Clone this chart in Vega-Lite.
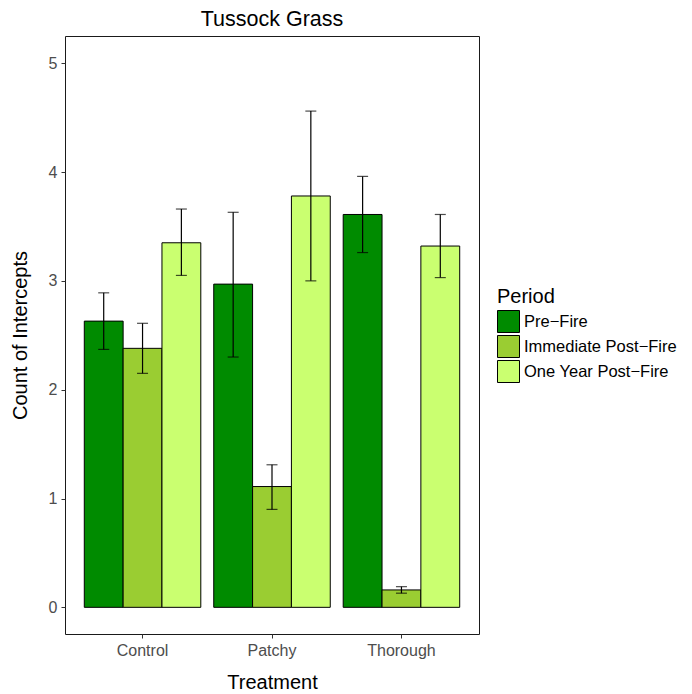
{
  "$schema": "https://vega.github.io/schema/vega-lite/v6.json",
  "width": 414,
  "height": 598,
  "autosize": {"type": "none"},
  "padding": {"left": 65, "top": 36, "right": 213, "bottom": 60},
  "background": "white",
  "config": {
    "font": "Liberation Sans",
    "view": {"stroke": "#1a1a1a", "strokeWidth": 1},
    "axis": {"grid": false, "domain": false, "tickColor": "#333333", "tickSize": 4, "labelColor": "#4D4D4D", "labelFontSize": 16, "titleFontSize": 20, "titleFontWeight": "normal", "titleColor": "black"}
  },
  "title": {"text": "Tussock Grass", "fontSize": 21.5, "fontWeight": "normal", "anchor": "middle", "offset": 6, "color": "black"},
  "data": {
    "values": [
      {"Treatment": "Control", "Period": "Pre−Fire", "value": 2.63, "lo": 2.37, "hi": 2.89},
      {"Treatment": "Control", "Period": "Immediate Post−Fire", "value": 2.38, "lo": 2.15, "hi": 2.61},
      {"Treatment": "Control", "Period": "One Year Post−Fire", "value": 3.35, "lo": 3.05, "hi": 3.66},
      {"Treatment": "Patchy", "Period": "Pre−Fire", "value": 2.97, "lo": 2.30, "hi": 3.63},
      {"Treatment": "Patchy", "Period": "Immediate Post−Fire", "value": 1.11, "lo": 0.90, "hi": 1.31},
      {"Treatment": "Patchy", "Period": "One Year Post−Fire", "value": 3.78, "lo": 3.00, "hi": 4.56},
      {"Treatment": "Thorough", "Period": "Pre−Fire", "value": 3.61, "lo": 3.26, "hi": 3.96},
      {"Treatment": "Thorough", "Period": "Immediate Post−Fire", "value": 0.16, "lo": 0.13, "hi": 0.19},
      {"Treatment": "Thorough", "Period": "One Year Post−Fire", "value": 3.32, "lo": 3.03, "hi": 3.61}
    ]
  },
  "encoding": {
    "x": {"field": "Treatment", "type": "nominal", "scale": {"paddingInner": 0.1, "paddingOuter": 0.149},
      "axis": {"labelAngle": 0, "title": "Treatment", "titlePadding": 14, "labelPadding": 4}},
    "xOffset": {"field": "Period", "type": "nominal", "sort": ["Pre−Fire", "Immediate Post−Fire", "One Year Post−Fire"], "scale": {"paddingInner": 0, "paddingOuter": 0}}
  },
  "layer": [
    {
      "mark": {"type": "bar", "stroke": "black", "strokeWidth": 1},
      "encoding": {
        "y": {"field": "value", "type": "quantitative", "scale": {"domain": [-0.245, 5.25], "nice": false, "zero": false},
          "axis": {"values": [0, 1, 2, 3, 4, 5], "format": "d", "title": "Count of Intercepts", "titlePadding": 18, "labelPadding": 4}},
        "y2": {"datum": 0},
        "color": {"field": "Period", "type": "nominal",
          "scale": {"domain": ["Pre−Fire", "Immediate Post−Fire", "One Year Post−Fire"], "range": ["#008B00", "#9ACD32", "#CAFF70"]},
          "legend": {"title": "Period", "orient": "none", "legendX": 432, "legendY": 251, "titleFontSize": 20, "titleFontWeight": "normal", "titleColor": "black", "labelFontSize": 16.5, "labelColor": "black", "symbolType": "square", "symbolSize": 484, "symbolStrokeColor": "black", "symbolStrokeWidth": 1, "symbolOpacity": 1, "rowPadding": -3, "labelOffset": 4, "titlePadding": 3}}
      }
    },
    {
      "mark": {"type": "rule", "color": "black", "strokeWidth": 1.2},
      "encoding": {"y": {"field": "lo", "type": "quantitative"}, "y2": {"field": "hi"}}
    },
    {
      "mark": {"type": "tick", "color": "black", "thickness": 1.2, "size": 11},
      "encoding": {"y": {"field": "lo", "type": "quantitative"}}
    },
    {
      "mark": {"type": "tick", "color": "black", "thickness": 1.2, "size": 11},
      "encoding": {"y": {"field": "hi", "type": "quantitative"}}
    }
  ]
}
